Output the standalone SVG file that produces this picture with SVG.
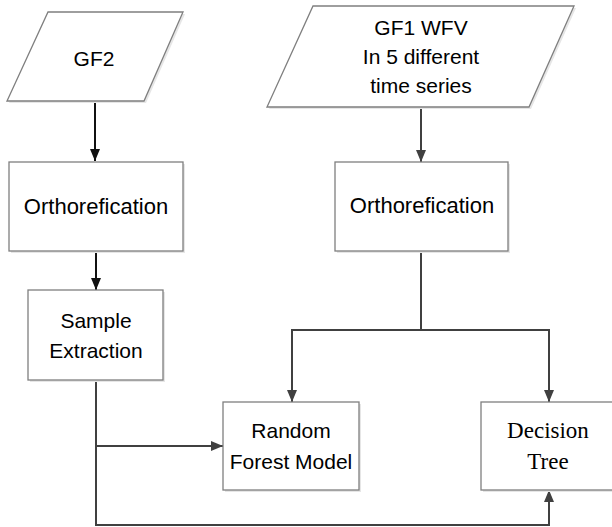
<svg xmlns="http://www.w3.org/2000/svg" width="612" height="527" viewBox="0 0 612 527">
<style>
.box{fill:#fff;stroke:#7f7f7f;stroke-width:1.3}
.sh{fill:#e6e6e6;stroke:none}
.t{font-family:"Liberation Sans",Arial,sans-serif;font-size:21px;fill:#000;text-anchor:middle}
.s{font-family:"Liberation Serif","Times New Roman",serif;font-size:23px;fill:#000;text-anchor:middle}
.c{fill:none;stroke:#404040;stroke-width:2}
.k{fill:none;stroke:#111;stroke-width:2}
</style>
<defs>
<marker id="ag" markerUnits="userSpaceOnUse" markerWidth="12" markerHeight="12" viewBox="0 0 12 12" refX="12" refY="6" orient="auto">
<path d="M0,1 L12,6 L0,11 Z" fill="#404040"/>
</marker>
<marker id="ak" markerUnits="userSpaceOnUse" markerWidth="12" markerHeight="12" viewBox="0 0 12 12" refX="12" refY="6" orient="auto">
<path d="M0,1 L12,6 L0,11 Z" fill="#111"/>
</marker>
</defs>
<rect width="612" height="527" fill="#fff"/>
<g id="connectors">
<path class="k" d="M95,101 V161" marker-end="url(#ak)"/>
<path class="k" d="M96,251 V290" marker-end="url(#ak)"/>
<path class="c" d="M421,107 V162" marker-end="url(#ag)"/>
<path class="c" d="M421,251 V330"/>
<path class="c" d="M421,330 H292 V402" marker-end="url(#ag)"/>
<path class="c" d="M421,330 H549 V402" marker-end="url(#ag)"/>
<path class="c" d="M96,380 V446 H223" marker-end="url(#ag)"/>
<path class="c" d="M96,446 V525 H549 V490" marker-end="url(#ag)"/>
</g>
<g id="gf2">
<polygon class="sh" points="50,14 185,14 146,103 9,103"/>
<polygon class="box" points="48,12 183,12 144,101 7,101"/>
<text class="t" x="94" y="66">GF2</text>
</g>
<g id="gf1">
<polygon class="sh" points="315,8 576,8 531,109 269,109"/>
<polygon class="box" points="313,6 574,6 529,107 267,107"/>
<text class="t" x="421" y="35">GF1 WFV</text>
<text class="t" x="421" y="64">In 5 different</text>
<text class="t" x="421" y="93">time series</text>
</g>
<g id="ortho1">
<rect class="sh" x="11" y="164" width="174" height="89"/>
<rect class="box" x="9" y="162" width="174" height="89"/>
<text class="t" x="96" y="214" style="font-size:22px">Orthorefication</text>
</g>
<g id="ortho2">
<rect class="sh" x="337" y="164" width="173" height="89"/>
<rect class="box" x="335" y="162" width="173" height="89"/>
<text class="t" x="422" y="213" style="font-size:22px">Orthorefication</text>
</g>
<g id="sample">
<rect class="sh" x="30" y="292" width="135" height="90"/>
<rect class="box" x="28" y="290" width="135" height="90"/>
<text class="t" x="96" y="328">Sample</text>
<text class="t" x="96" y="358">Extraction</text>
</g>
<g id="rf">
<rect class="sh" x="225" y="404" width="136" height="88"/>
<rect class="box" x="223" y="402" width="136" height="88"/>
<text class="t" x="291" y="438">Random</text>
<text class="t" x="291" y="469">Forest Model</text>
</g>
<g id="dt">
<rect class="sh" x="483" y="404" width="136" height="88"/>
<rect class="box" x="481" y="402" width="136" height="88"/>
<text class="s" x="548" y="438">Decision</text>
<text class="s" x="548" y="469">Tree</text>
</g>
</svg>
